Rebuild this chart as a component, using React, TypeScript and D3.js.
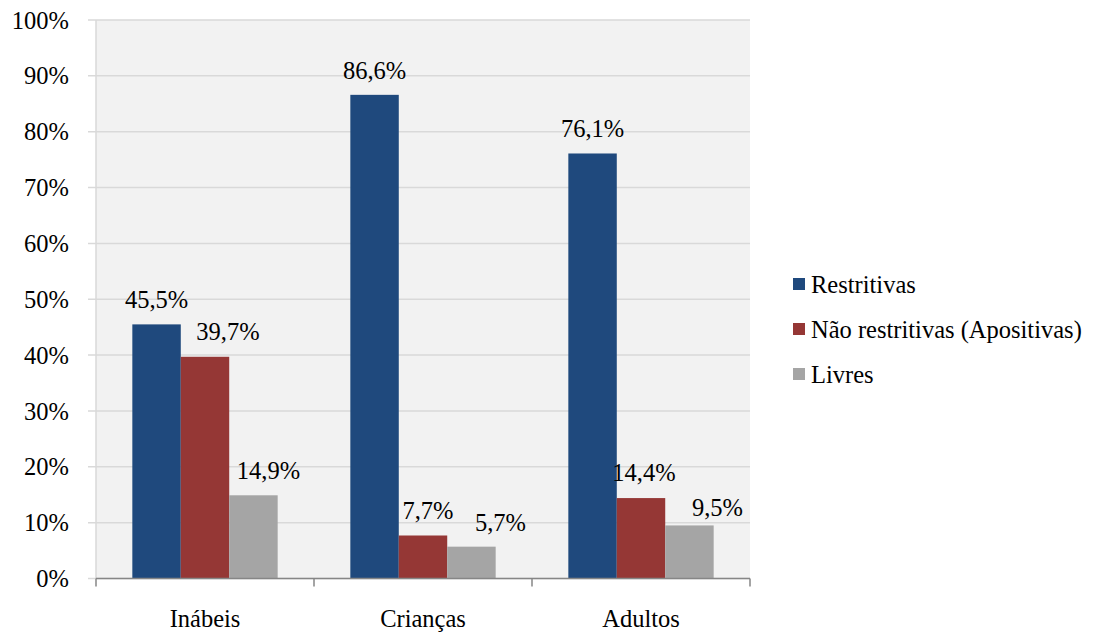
import { useEffect, useRef } from 'react';
import * as d3 from 'd3';

const categories = ['Inábeis', 'Crianças', 'Adultos'];
const seriesNames = ['Restritivas', 'Não restritivas (Apositivas)', 'Livres'];
const restritivas = [45.5, 86.6, 76.1];
const naoRestritivas = [39.7, 7.7, 14.4];
const livres = [14.9, 5.7, 9.5];
const yTicks = [0, 10, 20, 30, 40, 50, 60, 70, 80, 90, 100];
const colors = ['#1f497d', '#953735', '#a5a5a5'];

// hand-nudged label positions (per series, per category), as in the original
const labelDx = [
  [0, 0, 0],
  [23, 5, 3],
  [15, 29, 28],
];
const labelDy = [
  [16, 16, 16],
  [17, 16, 17],
  [16, 16, 9],
];

const App = () => {
  const svgRef = useRef<SVGSVGElement>(null);

  useEffect(() => {
    const svg = d3.select(svgRef.current);
    svg.selectAll('*').remove();
    const font = "'Liberation Serif', 'DejaVu Serif', serif";
    const fs = '24.5px';
    const left = 96;
    const right = 750;
    const top = 20;
    const bottom = 578.5;

    const values = [restritivas, naoRestritivas, livres];

    const x0 = d3.scaleBand().domain(categories).range([left, right]).paddingInner(0).paddingOuter(0);
    const groupPad = (x0.bandwidth() / (3 + 1.5)) * 0.75;
    const x1 = d3
      .scaleBand()
      .domain(seriesNames)
      .range([groupPad, x0.bandwidth() - groupPad]);
    const y = d3.scaleLinear().domain([0, 100]).range([bottom, top]);

    svg
      .append('rect')
      .attr('x', left)
      .attr('y', top)
      .attr('width', right - left)
      .attr('height', bottom - top)
      .attr('fill', '#f2f2f2');

    svg
      .append('g')
      .selectAll('line')
      .data(yTicks)
      .enter()
      .append('line')
      .attr('x1', left - 8)
      .attr('x2', right)
      .attr('y1', (d) => y(d))
      .attr('y2', (d) => y(d))
      .attr('stroke', '#d9d9d9')
      .attr('stroke-width', 1.5);

    svg
      .append('line')
      .attr('x1', left)
      .attr('x2', left)
      .attr('y1', top)
      .attr('y2', bottom)
      .attr('stroke', '#d9d9d9')
      .attr('stroke-width', 1.5);

    svg
      .append('g')
      .selectAll('text')
      .data(yTicks)
      .enter()
      .append('text')
      .attr('x', 69)
      .attr('y', (d) => y(d))
      .attr('dy', '0.35em')
      .attr('text-anchor', 'end')
      .style('font-family', font)
      .style('font-size', fs)
      .text((d) => `${d}%`);

    const groups = svg
      .append('g')
      .selectAll('g')
      .data(categories)
      .enter()
      .append('g')
      .attr('transform', (d) => `translate(${x0(d)},0)`);

    groups
      .selectAll('rect')
      .data((_, i) => seriesNames.map((s, k) => ({ s, k, i, v: values[k][i] })))
      .enter()
      .append('rect')
      .attr('x', (d) => x1(d.s) as number)
      .attr('y', (d) => y(d.v))
      .attr('width', x1.bandwidth())
      .attr('height', (d) => bottom - y(d.v))
      .attr('fill', (d) => colors[d.k]);

    groups
      .selectAll('text')
      .data((_, i) => seriesNames.map((s, k) => ({ s, k, i, v: values[k][i] })))
      .enter()
      .append('text')
      .attr('x', (d) => (x1(d.s) as number) + x1.bandwidth() / 2 + labelDx[d.k][d.i])
      .attr('y', (d) => y(d.v) - labelDy[d.k][d.i])
      .attr('text-anchor', 'middle')
      .style('font-family', font)
      .style('font-size', fs)
      .text((d) => `${d.v.toFixed(1).replace('.', ',')}%`);

    svg
      .append('line')
      .attr('x1', left)
      .attr('x2', right)
      .attr('y1', bottom)
      .attr('y2', bottom)
      .attr('stroke', '#868686')
      .attr('stroke-width', 1.5);

    const boundaries = [left, ...categories.map((c) => (x0(c) as number) + x0.bandwidth())];
    svg
      .append('g')
      .selectAll('line')
      .data(boundaries)
      .enter()
      .append('line')
      .attr('x1', (d) => d)
      .attr('x2', (d) => d)
      .attr('y1', bottom)
      .attr('y2', bottom + 8)
      .attr('stroke', '#868686')
      .attr('stroke-width', 1.5);

    svg
      .append('g')
      .selectAll('text')
      .data(categories)
      .enter()
      .append('text')
      .attr('x', (d) => (x0(d) as number) + x0.bandwidth() / 2)
      .attr('y', 627)
      .attr('text-anchor', 'middle')
      .style('font-family', font)
      .style('font-size', fs)
      .text((d) => d);

    const legend = svg
      .append('g')
      .selectAll('g')
      .data(seriesNames)
      .enter()
      .append('g')
      .attr('transform', (_, i) => `translate(793,${284 + i * 45})`);

    legend
      .append('rect')
      .attr('x', 0)
      .attr('y', -6)
      .attr('width', 12)
      .attr('height', 12)
      .attr('fill', (_, i) => colors[i]);

    legend
      .append('text')
      .attr('x', 18)
      .attr('y', 0)
      .attr('dy', '0.35em')
      .style('font-family', font)
      .style('font-size', fs)
      .text((d) => d);
  }, []);

  return (
    <svg
      ref={svgRef}
      width={1112}
      height={635}
      style={{ position: 'absolute', left: 0, top: 0, background: '#fff' }}
    ></svg>
  );
};

export default App;
